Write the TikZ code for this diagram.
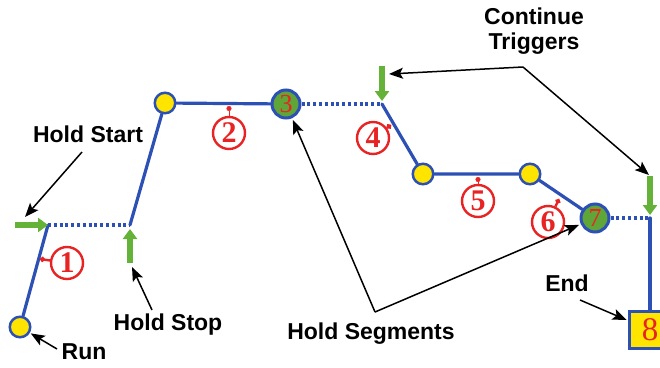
\documentclass[tikz,border=0pt]{standalone}
\usepackage{fontspec}
\setmainfont{Liberation Serif}
\setsansfont{Liberation Sans}
\usetikzlibrary{arrows.meta}
\definecolor{pblue}{RGB}{45,80,180}
\definecolor{pgreen}{RGB}{100,178,55}
\definecolor{pgreenfill}{RGB}{95,165,55}
\definecolor{pyellow}{RGB}{255,228,0}
\definecolor{pred}{RGB}{232,35,35}
\begin{document}
\begin{tikzpicture}[x=1pt,y=-1pt,
  bpath/.style={draw=pblue, line width=3.2pt, line cap=round},
  hold/.style={draw=pblue, line width=3.2pt, dash pattern=on 3pt off 2.8pt},
  ycirc/.style={circle, draw=pblue, fill=pyellow, line width=2.5pt, minimum size=20.5pt, inner sep=0pt},
  gcirc/.style={circle, draw=pblue, fill=pgreenfill, line width=3pt, minimum size=28pt, inner sep=0pt, text=pred, font=\fontsize{26}{26}\selectfont},
  boxend/.style={rectangle, draw=pblue, fill=pyellow, line width=3pt, minimum width=42pt, minimum height=37pt, inner sep=0pt, text=pred, font=\fontsize{33}{33}\selectfont},
  cnum/.style={circle, draw=pred, line width=2.4pt, minimum size=32pt, inner sep=0pt, text=pred, font=\bfseries\fontsize{30}{30}\selectfont},
  lbl/.style={font=\sffamily\bfseries\fontsize{23}{25}\selectfont, inner sep=0pt},
  callout/.style={draw=black, line width=1.5pt, -{Stealth[length=14pt,width=11pt,inset=3pt]}},
  garrow/.style={draw=pgreen, line width=6.5pt, -{Triangle[length=10pt,width=14pt]}},
  rtick/.style={draw=pred, line width=2.4pt, -{Circle[length=5pt]}},
  rthin/.style={draw=pred, line width=0.6pt, -{Circle[length=5pt]}}
]
\useasboundingbox (0,0) rectangle (660,367);

% main path nodes
\node[ycirc] (run) at (20,327) {};
\coordinate (hs) at (48,225);
\coordinate (hst) at (130,225);
\node[ycirc] (y2) at (165,103) {};
\node[gcirc] (g3) at (286,104) {3};
\coordinate (c4) at (382,104);
\node[ycirc] (y5a) at (423,174) {};
\node[ycirc] (y5b) at (530,174) {};
\node[gcirc] (g7) at (595,218) {7};
\coordinate (c8) at (650,218);
\node[boxend] (b8) at (650,330) {8};

% path segments
\draw[bpath] (run) -- (hs);
\draw[hold] (hs) -- (hst);
\draw[bpath] (hst) -- (y2) -- (g3);
\draw[hold] (g3) -- (c4);
\draw[bpath] (c4) -- (y5a) -- (y5b) -- (g7);
\draw[hold] (g7) -- (c8);
\draw[bpath] (c8) -- (b8);

% circled segment numbers
\node[cnum] (n1) at (67,263) {1};
\node[cnum] (n2) at (229,133) {2};
\node[cnum] (n4) at (373,138) {4};
\node[cnum] (n5) at (478,201) {5};
\node[cnum] (n6) at (548,222) {6};
\coordinate (t1) at (40,259);
\coordinate (t2) at (229,106);
\coordinate (t4) at (391,125);
\coordinate (t5) at (478,177);
\coordinate (t6) at (559,199);
\draw[rtick] (n1) -- (t1);
\draw[rthin] (n2) -- (t2);
\draw[rtick] (n4) -- (t4);
\draw[rthin] (n5) -- (t5);
\draw[rtick] (n6) -- (t6);

% green trigger arrows
\coordinate (gs0) at (15,225);
\coordinate (gp0) at (130,263);
\coordinate (gp1) at (130,229);
\coordinate (gd0) at (382,66);
\coordinate (gd1) at (382,101);
\coordinate (ge0) at (650,176);
\coordinate (ge1) at (650,215);
\draw[garrow] (gs0) -- (hs);
\draw[garrow] (gp0) -- (gp1);
\draw[garrow] (gd0) -- (gd1);
\draw[garrow] (ge0) -- (ge1);

% labels
\node[lbl] (lhs) at (88,134) {Hold Start};
\node[lbl] (lhst) at (168,325) {Hold Stop};
\node[lbl] (lrun) at (84,352) {Run};
\node[lbl] (lseg) at (371,334) {Hold Segments};
\node[lbl, align=center] (lct) at (534,31) {Continue\\Triggers};
\node[lbl] (lend) at (567,283) {End};

% callout arrows
\coordinate (a1s) at (82,152);
\coordinate (a1e) at (25,217);
\draw[callout] (a1s) -- (a1e);
\coordinate (a2s) at (152,310);
\coordinate (a2e) at (132,267);
\draw[callout] (a2s) -- (a2e);
\coordinate (a3s) at (57,349);
\draw[callout, shorten >=1pt] (a3s) -- (run);
\coordinate (hsv) at (375,312);
\draw[callout, shorten >=2pt] (hsv) -- (g3);
\draw[callout, shorten >=2pt] (hsv) -- (g7);
\coordinate (ctv) at (523,67);
\coordinate (ct1) at (389,74);
\coordinate (ct2) at (649,175);
\draw[callout] (ctv) -- (ct1);
\draw[callout] (ctv) -- (ct2);
\coordinate (a4s) at (580,300);
\draw[callout, shorten >=1pt] (a4s) -- (b8);
\end{tikzpicture}
\end{document}
